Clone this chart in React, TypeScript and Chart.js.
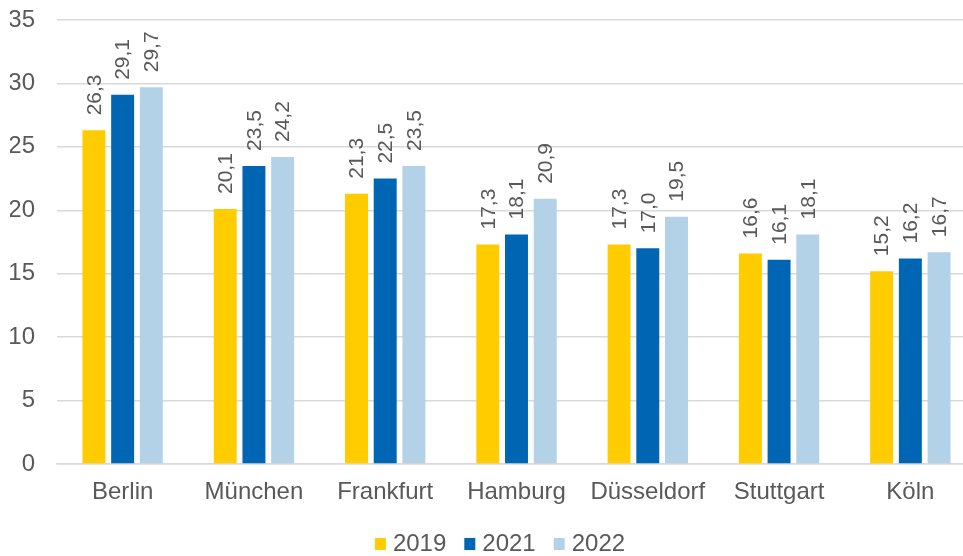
import React, { useEffect, useRef } from "react";
import { Chart, registerables } from "chart.js";

Chart.register(...registerables);

const categories = ["Berlin", "München", "Frankfurt", "Hamburg", "Düsseldorf", "Stuttgart", "Köln"];
const values2019 = [26.3, 20.1, 21.3, 17.3, 17.3, 16.6, 15.2];
const values2021 = [29.1, 23.5, 22.5, 18.1, 17.0, 16.1, 16.2];
const values2022 = [29.7, 24.2, 23.5, 20.9, 19.5, 18.1, 16.7];
const seriesLabels = ["2019", "2021", "2022"];
const seriesColors = ["#FFCC00", "#0066B3", "#B4D2E7"];
const yTicks = [0, 5, 10, 15, 20, 25, 30, 35];

const FONT = "'Liberation Sans', Arial, sans-serif";
const TEXT = "#595959";
const CANVAS_W = 1000;
const CANVAS_H = 556;

const labelPlugin = {
  id: "barLabels",
  afterDatasetsDraw(chart: any) {
    const ctx = chart.ctx;
    ctx.save();
    ctx.fillStyle = TEXT;
    ctx.font = `21px ${FONT}`;
    ctx.textAlign = "left";
    ctx.textBaseline = "middle";
    chart.data.datasets.forEach((ds: any, i: number) => {
      const meta = chart.getDatasetMeta(i);
      meta.data.forEach((bar: any, j: number) => {
        const v = ds.data[j];
        const txt = v.toFixed(1).replace(".", ",");
        ctx.save();
        ctx.translate(bar.x + 1, bar.y - 15);
        ctx.rotate(-Math.PI / 2);
        ctx.fillText(txt, 0, 0);
        ctx.restore();
      });
    });
    ctx.restore();
  },
};

const legendPlugin = {
  id: "customLegend",
  afterDraw(chart: any) {
    const ctx = chart.ctx;
    ctx.save();
    ctx.font = `24px ${FONT}`;
    ctx.textBaseline = "middle";
    ctx.textAlign = "left";
    const box = 11;
    const gap = 7;
    const spacing = 18;
    const items = chart.data.datasets.map((ds: any) => ({
      label: ds.label,
      color: ds.backgroundColor,
      w: box + gap + ctx.measureText(ds.label).width,
    }));
    const total = items.reduce((s: number, it: any) => s + it.w, 0) + spacing * (items.length - 1);
    let x = chart.width / 2 - total / 2;
    const cy = 544;
    items.forEach((it: any) => {
      ctx.fillStyle = it.color;
      ctx.fillRect(x, cy - 6, box, 12);
      ctx.fillStyle = TEXT;
      ctx.fillText(it.label, x + box + gap, cy);
      x += it.w + spacing;
    });
    ctx.restore();
  },
};

export default function App() {
  const ref = useRef<HTMLCanvasElement>(null);
  useEffect(() => {
    document.body.style.margin = "0";
    const chart = new Chart(ref.current!, {
      type: "bar",
      data: {
        labels: categories,
        datasets: seriesLabels.map((lab, i) => ({
          label: lab,
          data: [values2019, values2021, values2022][i],
          backgroundColor: seriesColors[i],
        })),
      },
      options: {
        animation: false,
        responsive: false,
        maintainAspectRatio: false,
        layout: { padding: { top: 20, right: 24, left: 10, bottom: 52 } },
        datasets: { bar: { categoryPercentage: 0.656, barPercentage: 0.8 } },
        scales: {
          x: {
            grid: { display: false, drawTicks: false },
            border: { color: "#d9d9d9", width: 1.5 },
            ticks: { color: TEXT, font: { family: FONT, size: 24 }, padding: 14 },
            afterFit: (axis: any) => {
              axis.height = 40;
              axis.paddingLeft = 0;
              axis.paddingRight = 0;
            },
          },
          y: {
            min: 0,
            max: 35,
            afterBuildTicks: (axis: any) => {
              axis.ticks = yTicks.map((v) => ({ value: v }));
            },
            grid: { color: "#d9d9d9", lineWidth: 1.5, drawTicks: false },
            border: { display: false },
            ticks: { color: TEXT, font: { family: FONT, size: 24 }, padding: 22 },
            afterFit: (axis: any) => {
              axis.width = 47;
              axis.paddingTop = 0;
              axis.paddingBottom = 0;
            },
          },
        },
        plugins: {
          legend: { display: false },
          tooltip: { enabled: false },
        },
      },
      plugins: [labelPlugin, legendPlugin],
    });
    return () => chart.destroy();
  }, []);
  return (
    <div style={{ width: 963, height: 556, overflow: "hidden" }}>
      <canvas
        ref={ref}
        width={CANVAS_W}
        height={CANVAS_H}
        style={{ width: CANVAS_W, height: CANVAS_H, display: "block" }}
      />
    </div>
  );
}
